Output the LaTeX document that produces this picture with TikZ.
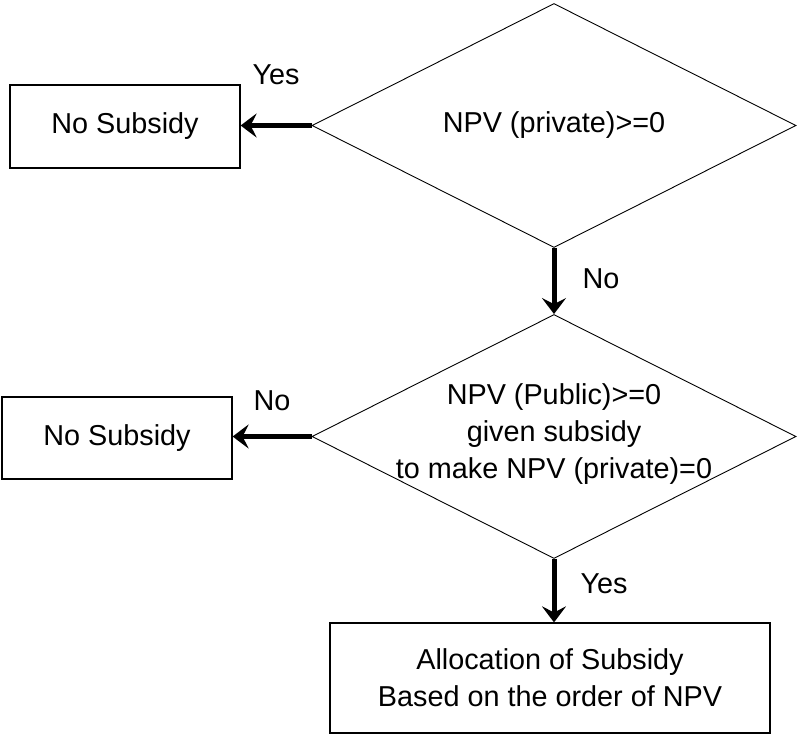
\documentclass[tikz,border=0pt]{standalone}
\usepackage{fontspec}
\setmainfont{Liberation Sans}
\usetikzlibrary{positioning,arrows.meta,shapes.geometric}
\tikzset{
  flowbox/.style={draw, line width=1.2pt, align=center, font=\fontsize{28.8}{37}\selectfont,
    inner sep=0pt, fill=white},
  flowdecision/.style={draw, diamond, line width=0.9pt, inner sep=0pt,
    minimum width=484pt, minimum height=244pt},
  flowtext/.style={align=center, font=\fontsize{28.8}{37}\selectfont, inner sep=0pt},
  flowarrow/.style={-{Stealth[length=16pt,width=24pt,inset=6pt]}, line width=5pt},
  flowlabel/.style={font=\fontsize{28.8}{37}\selectfont, text height=20pt, text depth=6pt, inner sep=0pt},
}

\begin{document}
\begin{tikzpicture}[x=1pt,y=-1pt]
  \useasboundingbox (0,0) rectangle (798,734);
  \node[flowdecision, label={[flowtext]center:NPV (private)>=0}] (npvpriv) at (554,125.5) {};
  \node[flowdecision, label={[flowtext, yshift=2pt]center:{NPV (Public)>=0\\given subsidy\\to make NPV (private)=0}}] (npvpub) at (554,436.5) {};
  \node[flowbox, minimum width=230pt, minimum height=83pt] (nosub1) at (125,126.5) {No Subsidy};
  \node[flowbox, minimum width=230pt, minimum height=82pt] (nosub2) at (117,438) {No Subsidy};
  \node[flowbox, minimum width=440pt, minimum height=110pt] (alloc) at (550,678) {Allocation of Subsidy\\Based on the order of NPV};
  % private NPV test
  \draw[flowarrow] (npvpriv.west) -- node[flowlabel, above=33pt]{Yes} (nosub1.east |- npvpriv.west);
  \draw[flowarrow] (npvpriv.south) -- node[flowlabel, right=26pt]{No} (npvpub.north);
  % public NPV test
  \draw[flowarrow] (npvpub.west) -- node[flowlabel, above=18pt]{No} (nosub2.east |- npvpub.west);
  \draw[flowarrow] (npvpub.south) -- node[flowlabel, right=24pt, yshift=4pt]{Yes} (npvpub.south |- alloc.north);
\end{tikzpicture}
\end{document}
